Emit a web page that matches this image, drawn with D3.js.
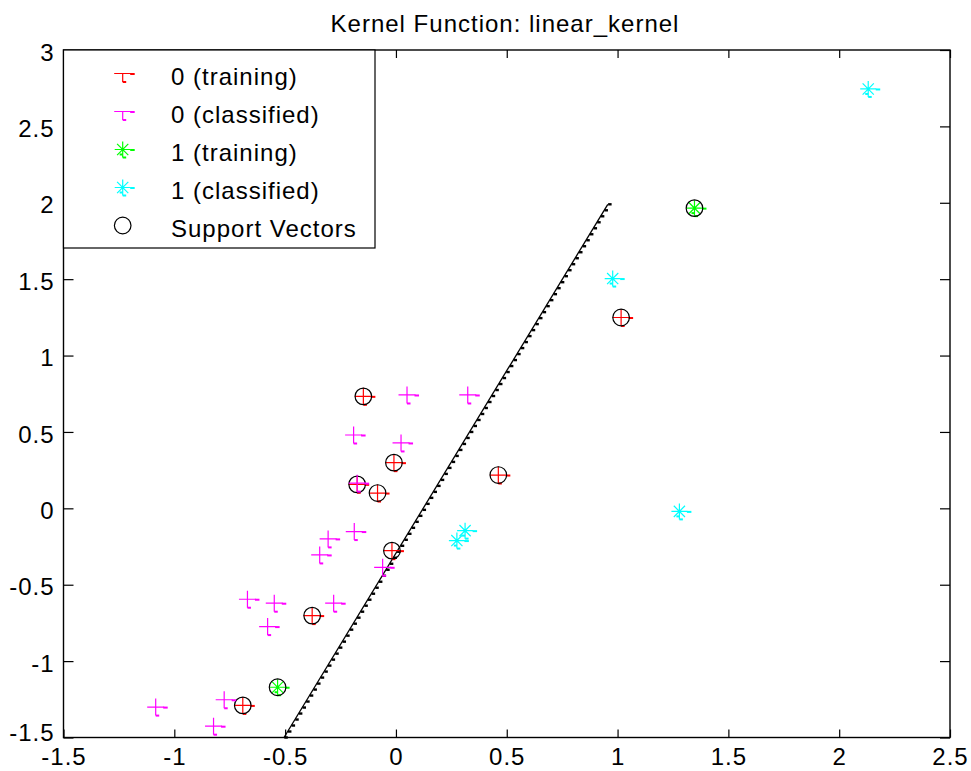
<!DOCTYPE html>
<html><head><meta charset="utf-8">
<script src="https://cdn.jsdelivr.net/npm/d3@7"></script>
<style>
body{margin:0;background:#fff;}
svg{display:block;font-family:"Liberation Sans",Arial,Helvetica,sans-serif;}
</style></head><body>
<svg id="chart" width="971" height="771"></svg>
<script>
const chartTitle = "Kernel Function: linear_kernel";
const xTickValues = [-1.5, -1, -0.5, 0, 0.5, 1, 1.5, 2, 2.5];
const xTickLabels = ["-1.5", "-1", "-0.5", "0", "0.5", "1", "1.5", "2", "2.5"];
const yTickValues = [-1.5, -1, -0.5, 0, 0.5, 1, 1.5, 2, 2.5, 3];
const yTickLabels = ["-1.5", "-1", "-0.5", "0", "0.5", "1", "1.5", "2", "2.5", "3"];

// 0 (training) - red plus
const train0X = [-0.147, -0.009, -0.175, -0.083, -0.018, 0.462, -0.378, -0.691, 1.016];
const train0Y = [0.733, 0.299, 0.157, 0.100, -0.277, 0.218, -0.702, -1.290, 1.249];
// 0 (classified) - magenta plus
const class0X = [0.050, 0.324, -0.191, 0.023, -0.175, -0.188, -0.306, -0.344, -0.060, -0.670, -0.549, -0.281, -0.579, -0.775, -1.084, -0.823];
const class0Y = [0.742, 0.742, 0.480, 0.428, 0.165, -0.152, -0.200, -0.305, -0.386, -0.595, -0.621, -0.621, -0.774, -1.253, -1.301, -1.426];
// 1 (training) - green star
const train1X = [-0.534, 1.347];
const train1Y = [-1.171, 1.965];
// 1 (classified) - cyan star
const class1X = [2.131, 0.978, 1.279, 0.312, 0.275];
const class1Y = [2.745, 1.504, -0.020, -0.146, -0.211];
// Support vectors
const svX = [-0.147, -0.009, -0.175, -0.083, -0.018, 0.462, -0.378, -0.691, 1.016, -0.534, 1.347];
const svY = [0.733, 0.299, 0.157, 0.100, -0.277, 0.218, -0.702, -1.290, 1.249, -1.171, 1.965];
// decision boundary
const boundaryX = [-0.505, 0.956];
const boundaryY = [-1.5, 1.99];

const legendLabels = ["0 (training)", "0 (classified)", "1 (training)", "1 (classified)", "Support Vectors"];
const legendKinds = ["plus", "plus", "star", "star", "circle"];
const legendColors = ["#ff0000", "#ff00ff", "#00ff00", "#00ffff", "#000000"];

const svg = d3.select("#chart");
svg.append("rect").attr("width", 971).attr("height", 771).attr("fill", "#fff");

const x = d3.scaleLinear().domain([-1.5, 2.5]).range([63.5, 950]);
const y = d3.scaleLinear().domain([-1.5, 3]).range([737.5, 50]);

const plot = svg.append("g");

// boundary
const bpts = boundaryX.map((d, i) => [x(d), y(boundaryY[i])]);
plot.append("path")
  .attr("d", d3.line()(bpts))
  .attr("fill", "none").attr("stroke", "#000").attr("stroke-width", 1.3);
{
  const [p0, p1] = [bpts[0], bpts[bpts.length - 1]];
  const L = Math.hypot(p1[0] - p0[0], p1[1] - p0[1]);
  const n = Math.floor(L / 7);
  const blobs = d3.range(n + 1).map(i => {
    const t = i / n;
    return [p0[0] + (p1[0] - p0[0]) * t, p0[1] + (p1[1] - p0[1]) * t];
  });
  plot.selectAll("rect.blob").data(blobs).enter().append("rect")
    .attr("class", "blob")
    .attr("x", d => d[0] + 0.3).attr("y", d => d[1] - 1.2)
    .attr("width", 3.5).attr("height", 2.4).attr("fill", "#000");
}

function drawPlus(g, cx, cy, color, half) {
  g.append("path")
    .attr("d", `M${cx - 8.5},${cy}H${cx + 8.5}M${cx},${half ? cy : cy - 8.5}V${cy + 8.5}`)
    .attr("stroke", color).attr("stroke-width", 1.2).attr("fill", "none");
  g.append("rect").attr("x", cx + 7.5).attr("y", cy - 0.5).attr("width", 4.5).attr("height", 2).attr("fill", color);
  g.append("rect").attr("x", cx).attr("y", cy + 7.5).attr("width", 3.5).attr("height", 2).attr("fill", color);
}
function drawStar(g, cx, cy, color) {
  const a = 8, b = 5.6;
  g.append("path")
    .attr("d", `M${cx - a},${cy}H${cx + a}M${cx},${cy - a}V${cy + a}M${cx - b},${cy - b}L${cx + b},${cy + b}M${cx - b},${cy + b}L${cx + b},${cy - b}`)
    .attr("stroke", color).attr("stroke-width", 1.2).attr("fill", "none");
  g.append("rect").attr("x", cx + 7.5).attr("y", cy - 0.5).attr("width", 4.5).attr("height", 2).attr("fill", color);
  g.append("rect").attr("x", cx).attr("y", cy + 7).attr("width", 3.5).attr("height", 2).attr("fill", color);
  g.append("rect").attr("x", cx - 3).attr("y", cy + 4).attr("width", 3).attr("height", 2).attr("fill", color);
}
function drawCircle(g, cx, cy) {
  g.append("circle").attr("cx", cx).attr("cy", cy).attr("r", 8.3)
    .attr("fill", "none").attr("stroke", "#000").attr("stroke-width", 1.2);
}

train0X.forEach((d, i) => drawPlus(plot, x(d), y(train0Y[i]), "#ff0000"));
train1X.forEach((d, i) => drawStar(plot, x(d), y(train1Y[i]), "#00ff00"));
svX.forEach((d, i) => drawCircle(plot, x(d), y(svY[i])));
class0X.forEach((d, i) => drawPlus(plot, x(d), y(class0Y[i]), "#ff00ff"));
class1X.forEach((d, i) => drawStar(plot, x(d), y(class1Y[i]), "#00ffff"));

// axes
const fontSize = 24;
function styleAxis(g) {
  g.select(".domain").remove();
  g.selectAll(".tick line").attr("stroke", "#000").attr("stroke-width", 1.2);
  g.selectAll(".tick text").attr("fill", "#000").style("font-size", fontSize + "px")
    .style("letter-spacing", "1px").attr("font-family", null);
}
const fmtX = d => xTickLabels[xTickValues.indexOf(d)];
const fmtY = d => yTickLabels[yTickValues.indexOf(d)];

svg.append("g").attr("transform", `translate(0,${y(-1.5)})`)
  .call(d3.axisBottom(x).tickValues(xTickValues).tickFormat(fmtX).tickSize(-8).tickPadding(10))
  .call(styleAxis);
svg.append("g").attr("transform", `translate(0,${y(3)})`)
  .call(d3.axisTop(x).tickValues(xTickValues).tickFormat("").tickSize(-8))
  .call(styleAxis);
svg.append("g").attr("transform", `translate(${x(-1.5)},0)`)
  .call(d3.axisLeft(y).tickValues(yTickValues).tickFormat(fmtY).tickSize(-10).tickPadding(9))
  .call(styleAxis)
  .call(g => g.selectAll(".tick text").attr("dy", d => d === -1.5 ? "0.14em" : "0.42em"));
svg.append("g").attr("transform", `translate(${x(2.5)},0)`)
  .call(d3.axisRight(y).tickValues(yTickValues).tickFormat("").tickSize(-10))
  .call(styleAxis);

svg.append("rect")
  .attr("x", x(-1.5)).attr("y", y(3))
  .attr("width", x(2.5) - x(-1.5)).attr("height", y(-1.5) - y(3))
  .attr("fill", "none").attr("stroke", "#000").attr("stroke-width", 1.4);

// legend
const lg = svg.append("g");
lg.append("rect").attr("x", x(-1.5)).attr("y", y(3)).attr("width", 311.5).attr("height", 198)
  .attr("fill", "#fff").attr("stroke", "#000").attr("stroke-width", 1.2);
legendLabels.forEach((lab, i) => {
  const cy = 73.5 + i * 38;
  const cx = 122.7;
  if (legendKinds[i] === "plus") drawPlus(lg, cx, cy, legendColors[i], true);
  else if (legendKinds[i] === "star") drawStar(lg, cx, cy, legendColors[i]);
  else drawCircle(lg, cx, cy);
  lg.append("text").attr("x", 171).attr("y", cy + 11)
    .style("font-size", fontSize + "px").style("letter-spacing", "1px")
    .attr("fill", "#000").text(lab);
});

// title
svg.append("text").attr("x", 505).attr("y", 32).attr("text-anchor", "middle")
  .style("font-size", fontSize + "px").style("letter-spacing", "1px")
  .attr("fill", "#000").text(chartTitle);
</script>
</body></html>
